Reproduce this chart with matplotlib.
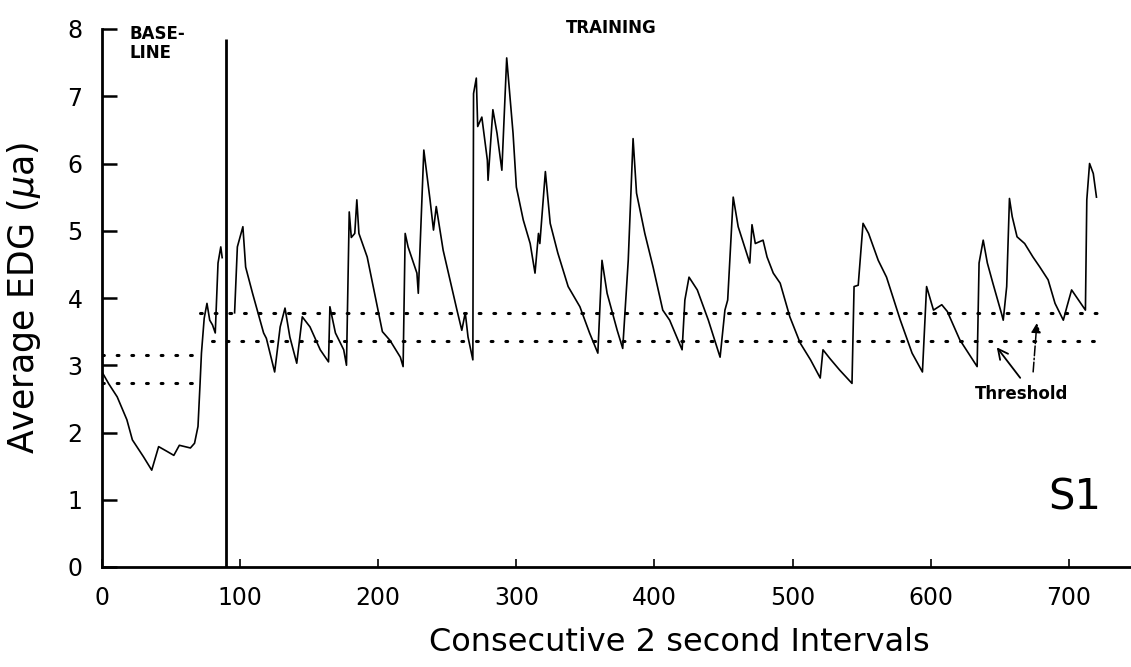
import numpy as np
import matplotlib
matplotlib.use("Agg")
import matplotlib.pyplot as plt

# baseline period
base_x = [0, 5, 11, 18, 22, 30, 36, 41, 47, 52, 56, 60, 64, 67, 69.5, 71, 72,
          74, 76, 78, 80, 82, 84, 86, 87]
base_y = [2.9, 2.72, 2.53, 2.19, 1.89, 1.64, 1.44, 1.79, 1.72, 1.66, 1.81, 1.79,
          1.77, 1.84, 2.09, 2.73, 3.18, 3.7, 3.92, 3.67, 3.6, 3.48, 4.52, 4.76, 4.6]

# training period
train_x = [96, 98, 102, 104, 109, 117, 119, 125, 129, 132.5, 136, 141, 145, 150.6,
           158, 164, 165, 169, 175, 177, 179, 180.5, 183, 184.5, 186, 192, 203,
           208.5, 216, 218, 219.5, 221.6, 228, 229, 233, 237.5, 240, 242, 247, 257,
           260.5, 263, 265, 268.5, 269, 271, 272, 275, 279, 279.5, 283, 286, 289.5,
           293, 297.6, 300, 305, 310, 313.5, 316, 317, 321, 324.5, 330, 337.5, 346,
           353, 359, 362, 365.7, 373, 377, 381, 384.5, 387, 393, 399, 406, 411, 420,
           422, 425, 431, 439, 447.5, 451, 453, 457, 460.6, 469, 470.6, 473, 478.6,
           481.5, 486, 491, 498, 505.5, 513, 520, 522, 527, 534, 543, 544.5, 547.5,
           551, 555, 562, 568, 578, 586.5, 594, 597, 602, 608, 612, 621, 633.6, 635,
           638, 641, 645, 651.5, 652.5, 655, 657, 659, 662.5, 668, 674, 679, 685,
           690, 696, 698.6, 702, 707, 712, 713, 715, 717.7, 720]
train_y = [3.78, 4.76, 5.06, 4.46, 4.07, 3.48, 3.4, 2.9, 3.57, 3.85, 3.42, 3.03, 3.72,
           3.57, 3.23, 3.05, 3.87, 3.48, 3.23, 3.0, 5.28, 4.9, 4.96, 5.46, 4.96, 4.61,
           3.5, 3.37, 3.12, 2.98, 4.96, 4.76, 4.37, 4.07, 6.2, 5.46, 5.01, 5.36, 4.71,
           3.82, 3.52, 3.78, 3.42, 3.08, 7.04, 7.27, 6.55, 6.69, 6.05, 5.75, 6.8, 6.45,
           5.9, 7.57, 6.45, 5.65, 5.16, 4.81, 4.37, 4.96, 4.81, 5.88, 5.11, 4.67, 4.17,
           3.87, 3.48, 3.18, 4.56, 4.07, 3.52, 3.25, 4.56, 6.37, 5.56, 4.96, 4.46, 3.82,
           3.67, 3.23, 3.97, 4.31, 4.12, 3.67, 3.12, 3.82, 3.97, 5.5, 5.06, 4.52, 5.09,
           4.81, 4.86, 4.61, 4.37, 4.22, 3.72, 3.33, 3.08, 2.81, 3.23, 3.1, 2.93, 2.73,
           4.17, 4.19, 5.11, 4.96, 4.56, 4.31, 3.67, 3.18, 2.9, 4.17, 3.82, 3.9, 3.8,
           3.38, 2.98, 4.52, 4.86, 4.52, 4.22, 3.75, 3.67, 4.17, 5.48, 5.21, 4.91, 4.81,
           4.61, 4.46, 4.27, 3.92, 3.67, 3.87, 4.12, 3.97, 3.82, 5.46, 6.0, 5.85, 5.5]

# threshold levels: (level, x start, x end)
base_thresholds = [(3.15, 0, 71), (2.74, 0, 71)]
train_thresholds = [(3.77, 71, 724), (3.36, 80, 721)]
phase_split = 89.5

xticks = [0, 100, 200, 300, 400, 500, 600, 700]
yticks = [0, 1, 2, 3, 4, 5, 6, 7, 8]

fig = plt.figure(figsize=(11.31, 6.67), dpi=100)
ax = fig.add_axes([102 / 1131, 100 / 667, 1029 / 1131, 538 / 667])

ax.plot(base_x, base_y, color="black", lw=1.2)
ax.plot(train_x, train_y, color="black", lw=1.2)

for lvl, x0, x1 in base_thresholds + train_thresholds:
    ax.plot([x0, x1], [lvl, lvl], color="black", lw=2.2, linestyle=(0, (0.6, 4.2)),
            dash_capstyle="round")

ax.vlines(phase_split, 0, 7.85, color="black", lw=2)

ax.set_xlim(0, 745)
ax.set_ylim(0, 8)
ax.set_xticks(xticks)
ax.set_yticks(yticks)
for s in ["top", "right"]:
    ax.spines[s].set_visible(False)
for s in ["left", "bottom"]:
    ax.spines[s].set_linewidth(2)
ax.tick_params(axis="y", direction="in", length=11, width=1.8, pad=14, labelsize=17)
ax.tick_params(axis="x", direction="in", length=6, width=1.2, pad=14, labelsize=17)

ax.set_ylabel("Average EDG ($\\mu$a)", fontsize=25)
ax.yaxis.set_label_coords(-0.057, 0.5)
ax.set_xlabel("Consecutive 2 second Intervals", fontsize=23, va="center")
ax.xaxis.set_label_coords(0.561, -0.141)

ax.text(20, 8.06, "BASE-\nLINE", fontsize=12, fontweight="bold", va="top",
        ha="left", linespacing=1.1)
ax.text(368.5, 8.02, "TRAINING", fontsize=12, fontweight="bold", ha="center",
        va="center")
ax.text(665.5, 2.57, "Threshold", fontsize=12, fontweight="bold", ha="center",
        va="center")
ax.text(704.5, 1.04, "S1", fontsize=30, ha="center", va="center")

ax.annotate("", xy=(646.6, 3.30), xytext=(666, 2.78),
            arrowprops=dict(arrowstyle="->", lw=1.3, color="black",
                            mutation_scale=18))
ax.annotate("", xy=(677, 3.67), xytext=(674, 2.86),
            arrowprops=dict(arrowstyle="-|>", lw=1.1, color="black", ls="-.",
                            mutation_scale=14))

fig.savefig("out.png", dpi=100)
